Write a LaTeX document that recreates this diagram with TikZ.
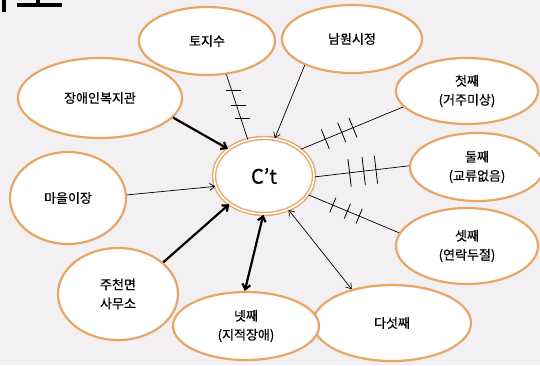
\documentclass[tikz,border=0pt]{standalone}
\usepackage{fontspec}
\setmainfont[FakeBold=0.6]{Noto Sans CJK KR}
\usetikzlibrary{shapes.geometric,arrows.meta}
\definecolor{bord}{RGB}{232,166,102}
\definecolor{bgc}{RGB}{242,240,242}
\newcommand{\tickrule}[1]{\rule{0.8pt}{#1pt}}
\newcommand{\htickrule}[1]{\rule{#1pt}{0.8pt}}
\begin{document}
\begin{tikzpicture}[x=1pt,y=-1pt,
  bub/.style={ellipse, draw=bord, line width=2.2pt, fill=white, inner sep=0pt, align=center,
    font=\fontsize{13}{19}\selectfont},
  thinarr/.style={line width=0.7pt, -{Straight Barb[length=5pt,width=7pt]}},
  thinboth/.style={line width=0.7pt, {Straight Barb[length=5pt,width=7pt]}-{Straight Barb[length=5pt,width=7pt]}},
  thickarr/.style={line width=2.2pt, -{Straight Barb[length=5pt,width=8pt]}},
  thickboth/.style={line width=2.2pt, {Straight Barb[length=5pt,width=8pt]}-{Straight Barb[length=5pt,width=8pt]}},
  hatchline/.style={line width=0.7pt},
  tk/.style={sloped, inner sep=0pt, outer sep=0pt},
  htk/.style={inner sep=0pt, outer sep=0pt}
]
\useasboundingbox (0,0) rectangle (540,365);
\fill[bgc] (0,0) rectangle (540,365);
% cropped title fragment
\fill[black] (2,0) rectangle (6,12);
\fill[black] (17,3) rectangle (62,7);
\fill[black] (36,0) rectangle (40,4);

\node[bub, minimum width=136pt, minimum height=68pt] (toji) at (207,41) {토지수};
\node[bub, minimum width=140pt, minimum height=68pt] (namwon) at (352,39) {남원시정};
\node[bub, minimum width=142pt, minimum height=66pt] (first) at (467,91) {첫째\\(거주미상)};
\node[bub, minimum width=134pt, minimum height=68pt] (second) at (477,167) {둘째\\(교류없음)};
\node[bub, minimum width=142pt, minimum height=76pt] (third) at (467,246) {셋째\\(연락두절)};
\node[bub, minimum width=158pt, minimum height=76pt] (fifth) at (392,323) {다섯째};
\node[bub, minimum width=146pt, minimum height=68pt] (fourth) at (246,326) {넷째\\(지적장애)};
\node[bub, minimum width=120pt, minimum height=92pt] (jucheon) at (118,294) {주천면\\사무소};
\node[bub, minimum width=116pt, minimum height=92pt] (maeul) at (68,198) {마을이장};
\node[bub, minimum width=164pt, minimum height=80pt] (jangae) at (100,98) {장애인복지관};
\node[ellipse, draw=bord, line width=1.4pt, double=white, double distance=1.6pt, fill=white,
  minimum width=100pt, minimum height=76pt, inner sep=0pt, font=\fontsize{20}{24}\selectfont]
  (ct) at (264,176) {C’t};

% connectors
\draw[hatchline] (toji.-60) -- (ct.114)
  node[htk,pos=.24,xshift=2pt]{\htickrule{15}} node[htk,pos=.47,xshift=2pt]{\htickrule{15}} node[htk,pos=.67,xshift=2pt]{\htickrule{15}};
\draw[thinarr] (namwon.209) -- (ct.74);
\draw[thickarr] (jangae.-15) -- (ct.143);
\draw[hatchline] (first.194) -- (ct.36)
  node[tk,pos=.49]{\tickrule{21}} node[tk,pos=.60]{\tickrule{21}} node[tk,pos=.76]{\tickrule{21}};
\draw[hatchline] (second.179) -- (ct.-1)
  node[tk,pos=.35]{\tickrule{28}} node[tk,pos=.48]{\tickrule{28}} node[tk,pos=.63]{\tickrule{28}};
\draw[hatchline] (third.169) -- (ct.-23)
  node[tk,pos=.44]{\tickrule{16}} node[tk,pos=.57]{\tickrule{16}} node[tk,pos=.73]{\tickrule{16}};
\draw[thinboth] (fifth.140) -- (ct.-54);
\draw[thinarr] (maeul.3) -- (ct.192);
\draw[thickarr] (jucheon.35) -- (ct.219);
\draw[thickboth] (fourth.92) -- (ct.269);
\end{tikzpicture}
\end{document}
